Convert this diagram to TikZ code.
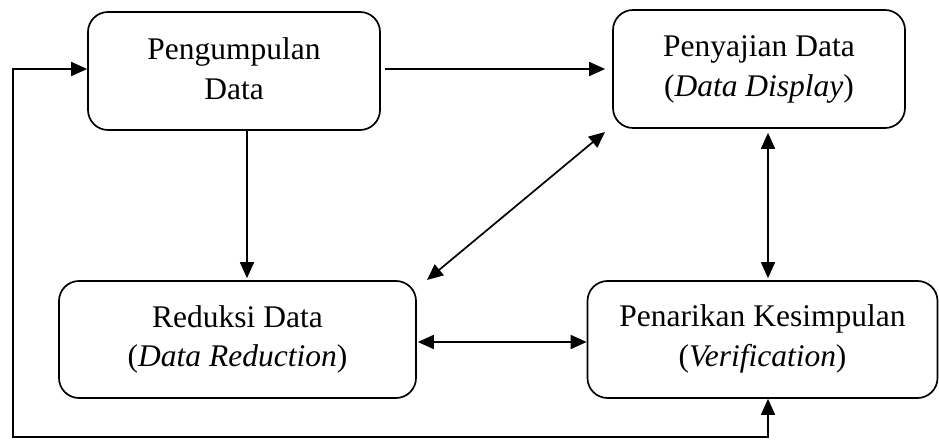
\documentclass[tikz,border=0pt]{standalone}
\usepackage{fontspec}
\setmainfont{Liberation Serif}
\usetikzlibrary{arrows.meta}
\begin{document}
\begin{tikzpicture}[x=1pt,y=1pt,
  box/.style={draw,line width=1.7pt,rounded corners=20pt,inner sep=0pt},
  txt/.style={anchor=base,inner sep=0pt,font=\fontsize{31.5}{36}\selectfont},
  tip/.style={Triangle[length=16pt,width=14pt]},
  arr/.style={line width=1.7pt,-{Triangle[length=16pt,width=14pt]}},
  darr/.style={line width=1.7pt,{Triangle[length=16pt,width=14pt]}-{Triangle[length=16pt,width=14pt]}}]
\useasboundingbox (0,0) rectangle (939,439);
% boxes
\node[box,minimum width=292pt,minimum height=118pt] (A) at (234,368) {};
\node[box,minimum width=292pt,minimum height=118pt] (B) at (759,370) {};
\node[box,minimum width=357pt,minimum height=117pt] (C) at (237.5,99.5) {};
\node[box,minimum width=350pt,minimum height=117pt] (D) at (762.5,99.5) {};
% texts
\node[txt] (a1) at (234,379) {Pengumpulan};
\node[txt] (a2) at (234,339) {Data};
\node[txt] (b1) at (759,382) {Penyajian Data};
\node[txt] (b2) at (759,342) {(\textit{Data Display})};
\node[txt] (c1) at (237.5,111) {Reduksi Data};
\node[txt] (c2) at (237.5,72) {(\textit{Data Reduction})};
\node[txt] (d1) at (762.5,112) {Penarikan Kesimpulan};
\node[txt] (d2) at (762.5,72) {(\textit{Verification})};
% free ends of the diagonal
\coordinate (g1) at (605,307);
\coordinate (g2) at (427,159);
% loop corners
\coordinate (l1) at (13,2);
\coordinate (l2) at (13,370);
% connectors
\draw[arr,shorten <=4pt,shorten >=7pt] ([yshift=2pt]A.east) -- ([yshift=2pt]A.east -| B.west);
\draw[arr,shorten >=2pt] ([xshift=13pt]A.south) -- ([xshift=13pt]A.south |- C.north);
\draw[darr] (g1) -- (g2);
\draw[darr,shorten <=4pt,shorten >=2pt] ([xshift=9pt]B.south) -- ([xshift=9pt]B.south |- D.north);
\draw[darr,shorten <=1pt] ([yshift=-2.5pt]C.east) -- ([yshift=-2.5pt]C.east -| D.west);
\draw[darr] ([xshift=5.5pt]D.south) -- ([xshift=5.5pt]D.south |- l1) -- (l1) -- (l2) -- ([yshift=2pt]A.west);
\end{tikzpicture}
\end{document}
